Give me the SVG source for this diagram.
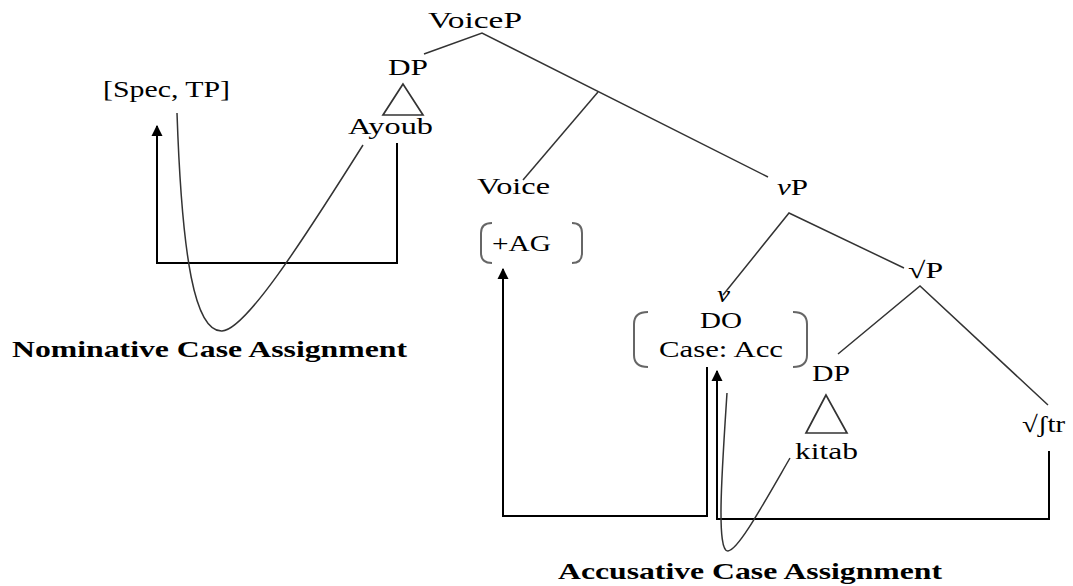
<svg xmlns="http://www.w3.org/2000/svg" width="1073" height="586" viewBox="0 0 1073 586">
<style>
text{font-family:"Liberation Serif","Times New Roman",serif;font-size:23px;fill:#000}
.b{font-weight:bold;font-size:24px}
.i{font-style:italic}
.edge{stroke:#333;stroke-width:1.5;fill:none}
.tri{stroke:#333;stroke-width:1.7;fill:none}
.br{stroke:#666;stroke-width:2;fill:none}
.arr{stroke:#000;stroke-width:2;fill:none}
.cur{stroke:#333;stroke-width:1.5;fill:none}
</style>
<defs>
<marker id="ah" viewBox="0 0 10 10" refX="9" refY="5" markerWidth="11" markerHeight="13" markerUnits="userSpaceOnUse" orient="auto">
<path d="M0,0 L10,5 L0,10 z" fill="#000"/>
</marker>
</defs>
<rect width="1073" height="586" fill="#fff"/>
<g id="connectors">
<path class="edge" d="M424,54 L482,33 L768,177"/>
<path class="edge" d="M598,92 L523,180"/>
<path class="edge" d="M723,295 L789,213 L904,268"/>
<path class="edge" d="M838,354 L920,286 L1048,405"/>
<path class="arr" d="M397,143 V263 H157 V126" marker-end="url(#ah)"/>
<path class="cur" d="M177,113 C182,260 195,332 222,331 C245,330 300,245 363,145"/>
<path class="arr" d="M707,367 V516 H503 V269" marker-end="url(#ah)"/>
<path class="arr" d="M1049,451 V519 H717 V371" marker-end="url(#ah)"/>
<path class="cur" d="M727,393 C722,470 716,552 728,551 C738,550 760,510 790,458"/>
</g>
<g id="voiceP"><text x="428" y="28" textLength="94" lengthAdjust="spacingAndGlyphs">VoiceP</text></g>
<g id="dp-ayoub">
<text x="388" y="75" textLength="40" lengthAdjust="spacingAndGlyphs">DP</text>
<path class="tri" d="M403,84 L383,115 L423,115 Z"/>
<text x="348" y="134" textLength="85" lengthAdjust="spacingAndGlyphs">Ayoub</text>
</g>
<g id="spec-tp"><text x="103" y="97" textLength="127" lengthAdjust="spacingAndGlyphs">[Spec, TP]</text></g>
<g id="voice"><text x="477" y="194" textLength="73" lengthAdjust="spacingAndGlyphs">Voice</text></g>
<g id="ag">
<path class="br" d="M492,223 Q481,223 481,233 V253 Q481,263 492,263"/>
<path class="br" d="M572,223 Q582,223 582,233 V253 Q582,263 572,263"/>
<text x="492" y="251" textLength="59" lengthAdjust="spacingAndGlyphs">+AG</text>
</g>
<g id="vP"><text x="777" y="195" textLength="31" lengthAdjust="spacingAndGlyphs"><tspan class="i">ν</tspan>P</text></g>
<g id="rootP"><text x="908" y="278" textLength="35" lengthAdjust="spacingAndGlyphs">√P</text></g>
<g id="v"><text class="i" x="717" y="302" textLength="13" lengthAdjust="spacingAndGlyphs">ν</text></g>
<g id="do-case">
<path class="br" d="M648,312 Q634,312 634,324 V355 Q634,367 648,367"/>
<path class="br" d="M793,312 Q807,312 807,324 V355 Q807,367 793,367"/>
<text x="700" y="328" textLength="42" lengthAdjust="spacingAndGlyphs">DO</text>
<text x="659" y="357" textLength="124" lengthAdjust="spacingAndGlyphs">Case: Acc</text>
</g>
<g id="dp-kitab">
<text x="812" y="381" textLength="38" lengthAdjust="spacingAndGlyphs">DP</text>
<path class="tri" d="M826,395 L806,433 L847,433 Z"/>
<text x="795" y="459" textLength="63" lengthAdjust="spacingAndGlyphs">kitab</text>
</g>
<g id="root-tr"><text x="1022" y="432" textLength="43" lengthAdjust="spacingAndGlyphs">√ʃtr</text></g>
<g id="nom-label"><text class="b" x="12" y="357" textLength="395" lengthAdjust="spacingAndGlyphs">Nominative Case Assignment</text></g>
<g id="acc-label"><text class="b" x="558" y="579" textLength="384" lengthAdjust="spacingAndGlyphs">Accusative Case Assignment</text></g>
</svg>
